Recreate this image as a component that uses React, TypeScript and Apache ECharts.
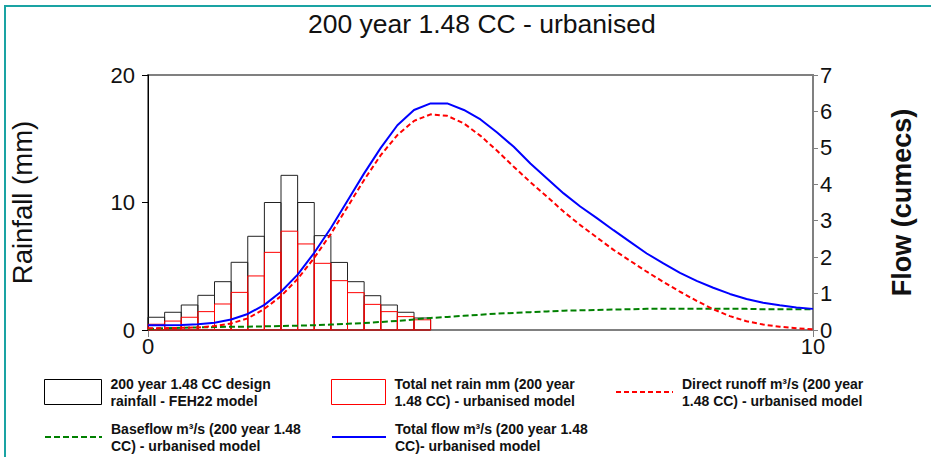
import React, { useEffect, useRef } from "react";
import * as echarts from "echarts";

const TITLE = "200 year 1.48 CC - urbanised";
const S_RAIN = "200 year 1.48 CC design\nrainfall - FEH22 model";
const S_NET = "Total net rain mm (200 year\n1.48 CC) - urbanised model";
const S_DIRECT = "Direct runoff m³/s (200 year\n1.48 CC) - urbanised model";
const S_BASE = "Baseflow m³/s (200 year 1.48\nCC) - urbanised model";
const S_TOTAL = "Total flow m³/s (200 year 1.48\nCC)- urbanised model";

// rainfall blocks (start hour, 0.25 h each)
const RAIN_STEP = 0.25;
const RAIN_START = [0, 0.25, 0.5, 0.75, 1.0, 1.25, 1.5, 1.75, 2.0, 2.25, 2.5, 2.75, 3.0, 3.25, 3.5, 3.75, 4.0];
const RAIN_DESIGN = [1.0, 1.39, 1.96, 2.72, 3.79, 5.31, 7.35, 10.0, 12.13, 10.0, 7.4, 5.3, 3.79, 2.69, 1.96, 1.39, 0.94];
const RAIN_NET = [0.45, 0.7, 1.0, 1.44, 2.04, 2.95, 4.24, 6.09, 7.75, 6.75, 5.23, 3.87, 2.93, 2.01, 1.44, 1.05, 0.8];

// flow hydrographs (hours)
const TIME = [0, 0.25, 0.5, 0.75, 1.0, 1.25, 1.5, 1.75, 2.0, 2.25, 2.5, 2.75, 3.0, 3.25, 3.5, 3.75, 4.0, 4.25, 4.5, 4.75, 5.0, 5.25, 5.5, 5.75, 6.0, 6.25, 6.5, 6.75, 7.0, 7.25, 7.5, 7.75, 8.0, 8.25, 8.5, 8.75, 9.0, 9.25, 9.5, 9.75, 10.0];
const DIRECT = [0.05, 0.05, 0.06, 0.07, 0.11, 0.18, 0.32, 0.58, 0.93, 1.4, 1.98, 2.64, 3.38, 4.12, 4.8, 5.35, 5.74, 5.92, 5.88, 5.67, 5.33, 4.92, 4.48, 4.06, 3.66, 3.25, 2.88, 2.54, 2.2, 1.9, 1.6, 1.32, 1.05, 0.8, 0.57, 0.38, 0.24, 0.15, 0.09, 0.05, 0.02];
const BASE = [0.03, 0.05, 0.06, 0.07, 0.08, 0.09, 0.09, 0.1, 0.11, 0.12, 0.13, 0.15, 0.17, 0.19, 0.22, 0.25, 0.29, 0.33, 0.36, 0.39, 0.42, 0.45, 0.47, 0.49, 0.51, 0.53, 0.54, 0.55, 0.56, 0.57, 0.58, 0.58, 0.58, 0.58, 0.58, 0.58, 0.58, 0.57, 0.57, 0.57, 0.57];
const TOTAL = [0.13, 0.13, 0.14, 0.16, 0.2, 0.29, 0.44, 0.69, 1.05, 1.52, 2.12, 2.8, 3.55, 4.3, 5.0, 5.62, 6.04, 6.22, 6.22, 6.04, 5.78, 5.42, 5.03, 4.57, 4.16, 3.75, 3.39, 3.07, 2.74, 2.42, 2.1, 1.83, 1.57, 1.35, 1.16, 0.99, 0.85, 0.75, 0.68, 0.62, 0.58];

const FONT = "Arial, 'Liberation Sans', sans-serif";

function barRender(stroke: string) {
  return (params: any, api: any) => {
    const t = api.value(0);
    const v = api.value(1);
    const p0 = api.coord([t, v]);
    const p1 = api.coord([t + RAIN_STEP, 0]);
    return {
      type: "rect",
      shape: { x: p0[0], y: p0[1], width: p1[0] - p0[0], height: p1[1] - p0[1] },
      style: { fill: "none", stroke, lineWidth: 1 },
    };
  };
}

export default function App() {
  const ref = useRef<HTMLDivElement>(null);
  useEffect(() => {
    if (!ref.current) return;
    const chart = echarts.init(ref.current, null, { renderer: "svg" });
    const pairs = (xs: number[], ys: number[]) => xs.map((x, i) => [x, ys[i]]);
    const legendText = {
      fontFamily: FONT,
      fontSize: 14,
      fontWeight: "bold" as const,
      color: "#111",
      lineHeight: 17,
      padding: [0, 0, 0, 4],
    };
    const mkLegend = (item: any, left: number, top: number, w: number, h: number) => ({
      data: [item],
      left,
      top,
      padding: 0,
      itemWidth: w,
      itemHeight: h,
      orient: "horizontal",
      textStyle: legendText,
      selectedMode: false,
    });
    chart.setOption({
      animation: false,
      backgroundColor: "#fff",
      title: {
        text: TITLE,
        left: 303,
        top: 5,
        textStyle: { fontFamily: FONT, fontSize: 26.5, fontWeight: "normal", color: "#111" },
      },
      graphic: [
        {
          type: "rect",
          shape: { x: 5, y: 6, width: 940, height: 470 },
          style: { fill: "none", stroke: "#1aa3a3", lineWidth: 2 },
          silent: true,
        },
      ],
      legend: [
        mkLegend({ name: S_RAIN, icon: "rect", itemStyle: { color: "#fff", borderColor: "#000", borderWidth: 1 } }, 44, 375, 57, 25),
        mkLegend({ name: S_NET, icon: "rect", itemStyle: { color: "#fff", borderColor: "#ff0000", borderWidth: 1 } }, 331, 375, 54, 25),
        mkLegend({ name: S_DIRECT, itemStyle: { opacity: 0 } }, 615, 375, 57, 14),
        mkLegend({ name: S_BASE, itemStyle: { opacity: 0 } }, 44, 420, 57, 14),
        mkLegend({ name: S_TOTAL, itemStyle: { opacity: 0 } }, 331, 420, 54, 14),
      ],
      grid: {
        left: 148,
        right: 118,
        top: 75,
        bottom: 127,
        show: true,
        borderColor: "#808080",
        borderWidth: 2,
        backgroundColor: "#fff",
      },
      xAxis: {
        type: "value",
        min: 0,
        max: 10,
        interval: 10,
        axisLine: { show: true, lineStyle: { color: "#808080", width: 2 } },
        axisTick: { show: true, length: 7, lineStyle: { color: "#808080", width: 1 } },
        axisLabel: { fontFamily: FONT, fontSize: 22, color: "#111", margin: 5 },
        splitLine: { show: false },
      },
      yAxis: [
        {
          type: "value",
          min: 0,
          max: 20,
          interval: 10,
          name: "Rainfall (mm)",
          nameLocation: "middle",
          nameRotate: 90,
          nameGap: 112,
          nameTextStyle: { fontFamily: FONT, fontSize: 27.5, color: "#111" },
          axisLine: { show: true, lineStyle: { color: "#000", width: 1 } },
          axisTick: { show: true, length: 6, lineStyle: { color: "#000" } },
          axisLabel: { fontFamily: FONT, fontSize: 22, color: "#111", margin: 13 },
          splitLine: { show: false },
        },
        {
          type: "value",
          min: 0,
          max: 7,
          interval: 1,
          position: "right",
          name: "Flow (cumecs)",
          nameLocation: "middle",
          nameRotate: 90,
          nameGap: 75,
          nameTextStyle: { fontFamily: FONT, fontSize: 27, fontWeight: "bold", color: "#111" },
          axisLine: { show: true, lineStyle: { color: "#808080", width: 2 } },
          axisTick: { show: true, length: 5, lineStyle: { color: "#808080" } },
          axisLabel: { fontFamily: FONT, fontSize: 22, color: "#111", margin: 7 },
          splitLine: { show: false },
        },
      ],
      series: [
        {
          name: S_RAIN,
          type: "custom",
          yAxisIndex: 0,
          renderItem: barRender("#222"),
          encode: { x: 0, y: 1 },
          itemStyle: { color: "#fff", borderColor: "#000" },
          data: pairs(RAIN_START, RAIN_DESIGN),
          z: 1,
        },
        {
          name: S_NET,
          type: "custom",
          yAxisIndex: 0,
          renderItem: barRender("#ff0000"),
          encode: { x: 0, y: 1 },
          itemStyle: { color: "#fff", borderColor: "#ff0000" },
          data: pairs(RAIN_START, RAIN_NET),
          z: 2,
        },
        {
          name: S_BASE,
          type: "line",
          yAxisIndex: 1,
          symbol: "none",
          data: pairs(TIME, BASE),
          lineStyle: { color: "#008000", width: 2, type: [6, 3] },
          itemStyle: { color: "#008000" },
          z: 3,
        },
        {
          name: S_DIRECT,
          type: "line",
          yAxisIndex: 1,
          symbol: "none",
          data: pairs(TIME, DIRECT),
          lineStyle: { color: "#ff0000", width: 2, type: [5, 3] },
          itemStyle: { color: "#ff0000" },
          z: 4,
        },
        {
          name: S_TOTAL,
          type: "line",
          yAxisIndex: 1,
          symbol: "none",
          data: pairs(TIME, TOTAL),
          lineStyle: { color: "#0000ff", width: 2 },
          itemStyle: { color: "#0000ff" },
          z: 5,
        },
      ],
    });
    return () => chart.dispose();
  }, []);
  return <div ref={ref} style={{ position: "fixed", left: 0, top: 0, width: 931, height: 457 }} />;
}
